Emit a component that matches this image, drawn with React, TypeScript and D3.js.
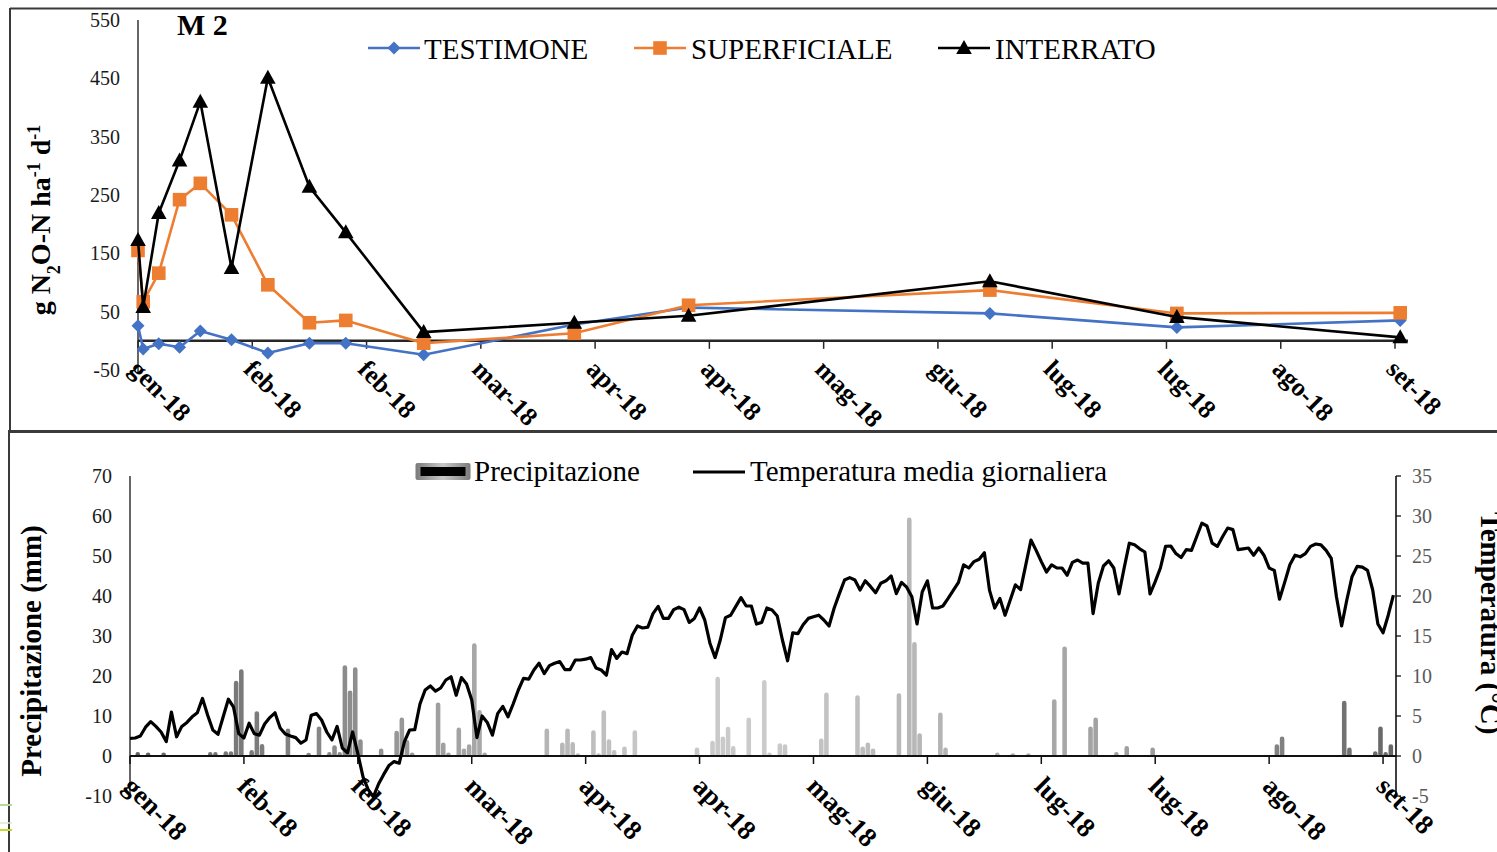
import React from "react";
import * as d3 from "d3";

// ---- shared time axis ----
const START_DATE = "2018-01-10";
const AXIS_DAYS = 244.5;
const TICK_STEP_DAYS = 22;
const tickLabels = ["gen-18", "feb-18", "feb-18", "mar-18", "apr-18", "apr-18", "mag-18", "giu-18", "lug-18", "lug-18", "ago-18", "set-18"];

// ---- N2O fluxes (g N2O-N ha-1 d-1) ----
const sampleDates = ["2018-01-10", "2018-01-11", "2018-01-14", "2018-01-18", "2018-01-22", "2018-01-28", "2018-02-04", "2018-02-12", "2018-02-19", "2018-03-06", "2018-04-04", "2018-04-26", "2018-06-23", "2018-07-29", "2018-09-10"];
const testimone = [26, -14, -5, -11, 17, 2, -21, -4, -4, -24, 28, 57, 47, 23, 35];
const superficiale = [155, 67, 116, 242, 270, 216, 96, 31, 35, -4, 13, 61, 87, 47, 48];
const interrato = [173, 58, 219, 309, 410, 125, 451, 264, 186, 15, 31, 43, 102, 41, 6];
const n2oTicks = [-50, 50, 150, 250, 350, 450, 550];

// ---- weather: daily mean temperature (°C), one value per day from START_DATE ----
const tempDaily = [
  2.2, 2.25, 2.5, 3.6, 4.3, 3.7, 3.0, 1.8, 5.5, 2.4,
  3.7, 4.2, 4.9, 5.4, 7.2, 5.1, 3.25, 2.7, 4.9, 7.1,
  6.1, 2.8, 2.25, 4.1, 2.8, 2.6, 4.0, 4.8, 5.4, 3.5,
  2.75, 2.5, 2.3, 1.6, 2.0, 5.1, 5.3, 4.5, 3.0, 2.0,
  3.7, 1.0, 0.4, 3.0, 0.3, -2.6, -4.2, -5.1, -3.5, -2.3,
  -1.2, -0.7, -0.9, 1.8, 3.25, 3.3, 6.5, 8.25, 8.75, 8.1,
  8.5, 9.5, 9.9, 7.6, 9.8, 9.0, 7.0, 2.3, 5.0, 4.2,
  2.6, 5.3, 6.2, 4.9, 6.5, 8.25, 9.7, 9.6, 10.75, 11.6,
  10.3, 11.3, 11.6, 11.8, 10.8, 10.8, 12.0, 12.0, 12.1, 12.3,
  11.0, 10.75, 10.1, 13.3, 12.2, 13.0, 12.8, 15.1, 16.25, 16.0,
  16.1, 17.8, 18.7, 17.2, 17.2, 18.3, 18.6, 18.3, 16.7, 17.2,
  18.5, 17.0, 14.1, 12.3, 14.5, 17.3, 17.6, 18.7, 19.8, 18.75,
  18.75, 16.5, 16.7, 18.5, 18.25, 17.5, 14.5, 11.9, 15.4, 15.3,
  16.4, 17.2, 17.4, 17.6, 17.0, 16.25, 18.5, 20.3, 22.0, 22.3,
  22.0, 20.75, 21.9, 21.2, 20.4, 21.6, 21.9, 22.5, 20.3, 21.7,
  21.1, 19.9, 16.5, 20.5, 21.9, 18.5, 18.5, 18.75, 19.7, 20.7,
  21.7, 23.9, 23.5, 24.3, 24.6, 25.4, 20.7, 18.5, 19.7, 17.6,
  19.5, 21.4, 20.8, 23.9, 27.0, 25.7, 24.3, 23.0, 23.9, 23.5,
  23.5, 22.6, 24.2, 24.5, 24.1, 24.1, 17.8, 21.6, 23.75, 24.4,
  23.5, 20.25, 23.5, 26.6, 26.4, 25.9, 25.5, 20.25, 21.8, 23.5,
  26.2, 26.25, 25.3, 24.8, 25.8, 25.7, 27.4, 29.1, 28.75, 26.6,
  26.2, 27.4, 28.5, 28.3, 25.8, 25.9, 26.0, 25.1, 26.0, 25.1,
  23.5, 23.2, 19.6, 21.7, 23.9, 25.1, 24.9, 25.3, 26.2, 26.5,
  26.4, 25.7, 24.7, 19.9, 16.25, 19.5, 22.4, 23.7, 23.6, 23.2,
  20.75, 16.5, 15.4, 17.6, 20.1,
];

// ---- weather: rainy days (day offset from START_DATE) and amount (mm) ----
const rainDay = [1, 3, 6, 15, 16, 18, 19, 20, 21, 23, 24, 25, 30, 34, 36, 38, 39, 40, 41, 42, 43, 44, 48, 51, 52, 53, 54, 59, 60, 61, 63, 64, 65, 66, 67, 68, 80, 83, 84, 85, 86, 89, 90, 91, 92, 93, 95, 97, 109, 112, 113, 114, 115, 116, 119, 122, 123, 125, 126, 133, 134, 140, 141, 142, 143, 148, 150, 151, 152, 156, 157, 167, 170, 173, 178, 180, 185, 186, 190, 192, 197, 221, 222, 234, 235, 240, 241, 242, 243];
const rainMm = [0.8, 0.7, 0.7, 0.8, 0.8, 1.0, 1.0, 18.6, 21.5, 1.3, 11.0, 2.8, 6.7, 0.6, 7.2, 0.8, 2.5, 0.8, 22.5, 16.2, 22.0, 4.0, 1.7, 6.1, 9.4, 3.8, 0.7, 13.2, 3.2, 0.7, 6.9, 1.7, 2.75, 28.0, 11.3, 0.7, 6.7, 3.2, 6.7, 3.3, 0.5, 6.25, 0.5, 11.25, 4.0, 1.3, 2.2, 6.25, 1.9, 3.6, 19.6, 4.7, 7.1, 2.3, 9.4, 18.8, 0.7, 3.0, 2.75, 4.2, 15.7, 15.0, 2.2, 3.2, 1.7, 15.5, 59.4, 28.3, 5.5, 10.7, 1.9, 0.7, 0.5, 0.5, 14.0, 27.2, 7.2, 9.4, 0.8, 2.3, 1.9, 2.75, 4.7, 13.6, 1.9, 1.0, 7.2, 0.8, 2.75];
const rainTicks = [-10, 0, 10, 20, 30, 40, 50, 60, 70];
const tempTicks = [-5, 0, 5, 10, 15, 20, 25, 30, 35];

const FONT = "'Times New Roman', 'Liberation Serif', Times, serif";
const BLUE = "#4472C4";
const ORANGE = "#ED7D31";
const parseDay = d3.timeParse("%Y-%m-%d");

const diamond = "M0,-6.5L6.5,0L0,6.5L-6.5,0Z";
const triangle = "M0,-8L7.8,6L-7.8,6Z";

function Marker({ kind, x, y, color }: { kind: string; x: number; y: number; color: string }) {
  if (kind === "diamond") return <path d={diamond} transform={`translate(${x},${y})`} fill={color} />;
  if (kind === "square") return <rect x={x - 6.8} y={y - 6.8} width={13.6} height={13.6} fill={color} />;
  return <path d={triangle} transform={`translate(${x},${y})`} fill={color} />;
}

export default function App() {
  const start = parseDay(START_DATE) as Date;
  const end = new Date(start.getTime() + AXIS_DAYS * 864e5);
  const tickDates = tickLabels.map((_, i) => d3.timeDay.offset(start, i * TICK_STEP_DAYS));

  // ---------- upper panel ----------
  const xTop = d3.scaleTime().domain([start, end]).range([138, 1408]);
  const yTop = d3.scaleLinear().domain([-50, 550]).range([370, 20]);
  const dates = sampleDates.map((s) => parseDay(s) as Date);
  const topLine = d3
    .line<number>()
    .x((_, i) => xTop(dates[i]))
    .y((v) => yTop(v));
  const series = [
    { name: "TESTIMONE", values: testimone, color: BLUE, marker: "diamond", lx: 368, tx: 424 },
    { name: "SUPERFICIALE", values: superficiale, color: ORANGE, marker: "square", lx: 634, tx: 691 },
    { name: "INTERRATO", values: interrato, color: "#000", marker: "triangle", lx: 938, tx: 995 },
  ];

  // ---------- lower panel ----------
  const xBot = d3.scaleTime().domain([start, end]).range([130, 1396]);
  const yRain = d3.scaleLinear().domain([-10, 70]).range([796, 476]);
  const yTemp = d3.scaleLinear().domain([-5, 35]).range([796, 476]);
  const tempLine = d3
    .line<number>()
    .x((_, i) => xBot(d3.timeDay.offset(start, i)))
    .y((v) => yTemp(v))
    .curve(d3.curveLinear);

  const topAxisY = yTop(0);
  const botAxisY = yRain(0);

  return (
    <svg
      width={1497}
      height={852}
      viewBox="0 0 1497 852"
      style={{ position: "absolute", left: 0, top: 0, background: "#fff" }}
      fontFamily={FONT}
    >
      <defs>
        <linearGradient id="rainFill" gradientUnits="userSpaceOnUse" x1={130} x2={1396} y1={0} y2={0}>
          <stop offset="0" stopColor="#5f5f5f" />
          <stop offset="0.08" stopColor="#787878" />
          <stop offset="0.17" stopColor="#8c8c8c" />
          <stop offset="0.27" stopColor="#a6a6a6" />
          <stop offset="0.4" stopColor="#c6c6c6" />
          <stop offset="0.5" stopColor="#cbcbcb" />
          <stop offset="0.6" stopColor="#bababa" />
          <stop offset="0.74" stopColor="#a6a6a6" />
          <stop offset="0.82" stopColor="#9a9a9a" />
          <stop offset="0.9" stopColor="#848484" />
          <stop offset="1" stopColor="#666666" />
        </linearGradient>
        <linearGradient id="rainKey" x1="0" x2="1" y1="0" y2="0">
          <stop offset="0" stopColor="#7a7a7a" />
          <stop offset="0.5" stopColor="#c8c8c8" />
          <stop offset="1" stopColor="#7a7a7a" />
        </linearGradient>
      </defs>

      <rect x={0} y={0} width={1497} height={852} fill="#fff" />

      {/* panel frames */}
      <line x1={10} x2={1497} y1={8.5} y2={8.5} stroke="#3a3a3a" strokeWidth={2} />
      <line x1={10} x2={10} y1={8} y2={432} stroke="#3a3a3a" strokeWidth={2} />
      <line x1={8} x2={1497} y1={431.5} y2={431.5} stroke="#3a3a3a" strokeWidth={3} />
      <line x1={9} x2={9} y1={431} y2={852} stroke="#3a3a3a" strokeWidth={2} />
      <line x1={0} x2={12} y1={805} y2={805} stroke="#b5d99c" strokeWidth={2} />
      <line x1={0} x2={12} y1={823} y2={823} stroke="#dbe9d3" strokeWidth={1.5} />
      <line x1={0} x2={12} y1={830} y2={830} stroke="#c5d82e" strokeWidth={2} />

      {/* ================= upper panel ================= */}
      <line x1={138} x2={138} y1={20} y2={372} stroke="#000" strokeWidth={1.2} />
      {n2oTicks.map((t) => (
        <text key={t} x={120} y={yTop(t)} dy="0.35em" textAnchor="end" fontSize={20} fill="#1a1a1a">
          {t}
        </text>
      ))}
      <line x1={138} x2={1408} y1={topAxisY} y2={topAxisY} stroke="#262626" strokeWidth={2.5} />
      {tickDates.map((d, i) => (
        <g key={i}>
          <line x1={xTop(d)} x2={xTop(d)} y1={topAxisY} y2={topAxisY + 8} stroke="#262626" strokeWidth={1.5} />
          <text
            transform={`translate(${xTop(d) - 10},${topAxisY + 30}) rotate(45)`}
            fontSize={26}
            fontWeight="bold"
            fill="#000"
          >
            {tickLabels[i]}
          </text>
        </g>
      ))}

      <text transform="translate(50,220) rotate(-90)" textAnchor="middle" fontSize={28} fontWeight="bold" fill="#000">
        g N<tspan baselineShift="sub" fontSize={18}>2</tspan>O-N ha<tspan baselineShift="super" fontSize={18}>-1</tspan> d
        <tspan baselineShift="super" fontSize={18}>-1</tspan>
      </text>
      <text x={177} y={35} fontSize={30} fontWeight="bold" fill="#000">
        M 2
      </text>

      {series.map((s) => (
        <g key={s.name}>
          <path d={topLine(s.values) || ""} fill="none" stroke={s.color} strokeWidth={2.6} strokeLinejoin="round" />
          {s.values.map((v, i) => (
            <Marker key={i} kind={s.marker} x={xTop(dates[i])} y={yTop(v)} color={s.color} />
          ))}
        </g>
      ))}

      {series.map((s) => (
        <g key={"lg" + s.name}>
          <line x1={s.lx} x2={s.lx + 52} y1={48} y2={48} stroke={s.color} strokeWidth={2.6} />
          <Marker kind={s.marker} x={s.lx + 26} y={48} color={s.color} />
          <text x={s.tx} y={59} fontSize={29} fill="#000">
            {s.name}
          </text>
        </g>
      ))}

      {/* ================= lower panel ================= */}
      <line x1={130} x2={130} y1={476} y2={797} stroke="#000" strokeWidth={1.2} />
      {rainTicks.map((t) => (
        <text key={t} x={112} y={yRain(t)} dy="0.35em" textAnchor="end" fontSize={20} fill="#1a1a1a">
          {t}
        </text>
      ))}
      <line x1={1396} x2={1396} y1={476} y2={797} stroke="#000" strokeWidth={1.5} />
      {tempTicks.map((t) => (
        <g key={t}>
          <line x1={1396} x2={1401} y1={yTemp(t)} y2={yTemp(t)} stroke="#000" strokeWidth={1.2} />
          <text x={1412} y={yTemp(t)} dy="0.35em" fontSize={20} fill="#595959">
            {t}
          </text>
        </g>
      ))}

      {rainDay.map((d, i) => {
        const x0 = xBot(d3.timeDay.offset(start, d));
        const x1 = xBot(d3.timeDay.offset(start, d + 1));
        const top = yRain(rainMm[i]);
        return (
          <rect
            key={d}
            x={x0 + 1.1}
            y={top}
            width={x1 - x0 - 2.2}
            height={botAxisY - top}
            rx={1.6}
            fill="url(#rainFill)"
            stroke="url(#rainFill)"
            strokeWidth={1.6}
            strokeLinejoin="round"
          />
        );
      })}

      <line x1={130} x2={1396} y1={botAxisY} y2={botAxisY} stroke="#111" strokeWidth={2.2} />
      {tickDates.map((d, i) => (
        <g key={"b" + i}>
          <line x1={xBot(d)} x2={xBot(d)} y1={botAxisY} y2={botAxisY + 8} stroke="#111" strokeWidth={1.5} />
          <text
            transform={`translate(${xBot(d) - 8},${botAxisY + 32}) rotate(45)`}
            fontSize={27}
            fontWeight="bold"
            fill="#000"
          >
            {tickLabels[i]}
          </text>
        </g>
      ))}

      <path d={tempLine(tempDaily) || ""} fill="none" stroke="#000" strokeWidth={3.2} strokeLinejoin="round" />

      <text transform="translate(41,651) rotate(-90)" textAnchor="middle" fontSize={29} fontWeight="bold" fill="#000">
        Precipitazione (mm)
      </text>
      <text transform="translate(1481,512) rotate(90)" fontSize={29} fontWeight="bold" fill="#000">
        Temperatura (°C)
      </text>

      {/* lower legend */}
      <rect x={415.5} y={463} width={55} height={17} rx={2} fill="url(#rainKey)" />
      <rect x={420.5} y={467} width={45} height={9} fill="#000" />
      <text x={474} y={481} fontSize={29} fill="#000">
        Precipitazione
      </text>
      <line x1={693} x2={745} y1={472} y2={472} stroke="#000" strokeWidth={3.2} />
      <text x={750} y={481} fontSize={29} fill="#000">
        Temperatura media giornaliera
      </text>
    </svg>
  );
}
